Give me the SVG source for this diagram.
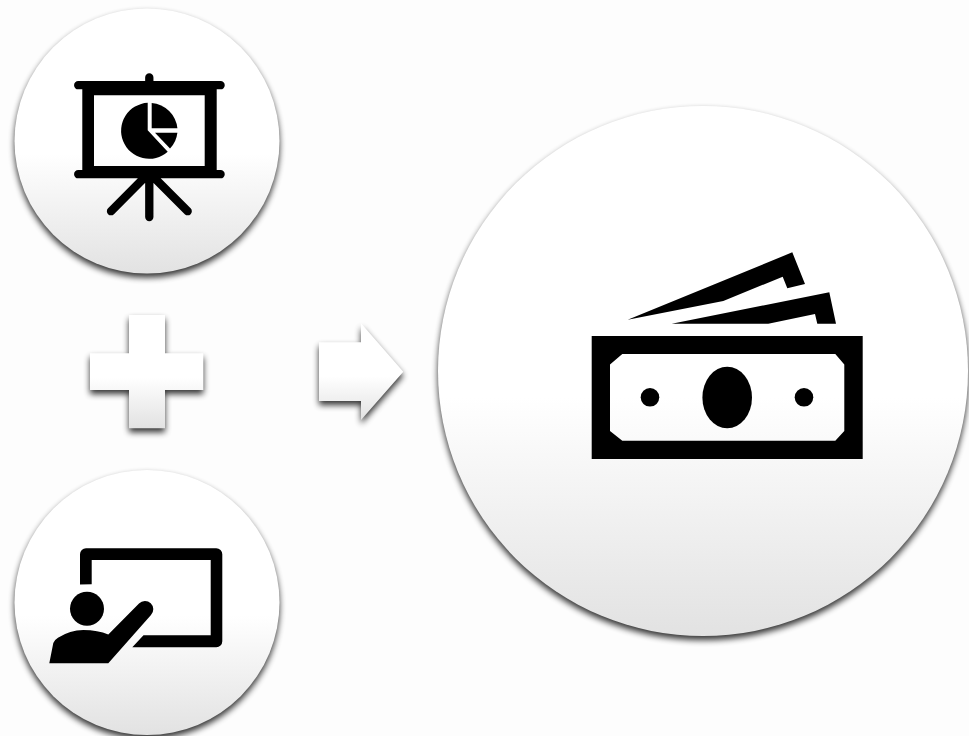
<svg xmlns="http://www.w3.org/2000/svg" width="969" height="736" viewBox="0 0 969 736">
<style>
.bubble{fill:url(#sheen);filter:url(#lift)}
.ink{fill:#000}
.bar{fill:none;stroke:#000;stroke-width:8.3;stroke-linecap:round}
</style>
<defs>
<linearGradient id="sheen" x1="0" y1="0" x2="0" y2="1">
<stop offset="0" stop-color="#fff"/>
<stop offset="0.55" stop-color="#fff"/>
<stop offset="1" stop-color="#e2e2e2"/>
</linearGradient>
<filter id="lift" x="-15%" y="-15%" width="130%" height="130%" color-interpolation-filters="sRGB">
<feGaussianBlur in="SourceAlpha" stdDeviation="3"/>
<feOffset dy="3.5"/>
<feComponentTransfer><feFuncA type="linear" slope="0.8"/></feComponentTransfer>
<feMerge><feMergeNode/><feMergeNode in="SourceGraphic"/></feMerge>
</filter>
</defs>
<rect width="969" height="736" fill="#fdfdfd"/>
<g id="node-presentation">
<circle class="bubble" cx="147" cy="141" r="132.5"/>
<path class="bar" d="M78.2 85.2H220.6M78.2 174.2H220.6M149.3 77.5V85M149.3 178V217M111 211.2L147 175M187.7 211.2L151.5 175"/>
<path class="ink" fill-rule="evenodd" d="M82.3 85H216.7V175H82.3ZM94 95.3V166H204.7V95.3Z"/>
<path class="ink" d="M147.7 102.8V130.2L167.7 151.7A28 28 0 1 1 147.7 102.8Z"/>
<path class="ink" d="M151.7 103V128.3H177.4A28 28 0 0 0 151.7 103Z"/>
<path class="ink" d="M155 132.7H177.4A28 28 0 0 1 170 148.6Z"/>
</g>
<g id="node-teacher">
<circle class="bubble" cx="147" cy="602.5" r="132.5"/>
<path class="ink" d="M80 584.6V554.3A6 6 0 0 1 86 548.3H216.3A6 6 0 0 1 222.3 554.3V641.3A6 6 0 0 1 216.3 647.3H132.3L143.5 635.3H210.7V560H91.7V584.2Z"/>
<circle class="ink" cx="87" cy="608.7" r="17"/>
<path class="ink" d="M49.3 663.3L53.3 643Q55 639.5 58 637.8Q70 630 83.3 630Q98 630 108.3 634.5L139 603.5A8.3 8.3 0 0 1 151 615L108.3 663.3Z"/>
</g>
<g id="node-plus">
<path class="bubble" d="M129 315H165V353.3H203.3V390H165V428.3H129V390H90V353.3H129Z"/>
</g>
<g id="connectors">
<path class="bubble" d="M319 342.3H361V323.3L403.3 371.7L361 420V401H319Z"/>
</g>
<g id="node-money">
<circle class="bubble" cx="703" cy="371" r="265"/>
<path class="ink" fill-rule="evenodd" d="M591.7 336H862.7V459H591.7ZM622.3 354L610 364.5V431L622.3 440.7H835.3L844.3 431V364.5L835.3 354Z"/>
<ellipse class="ink" cx="727.2" cy="397.5" rx="24.8" ry="30.8"/>
<circle class="ink" cx="650" cy="397.3" r="9.3"/>
<circle class="ink" cx="804" cy="397.3" r="9.3"/>
<path class="ink" d="M627.7 319.7L792.3 252.3L805 284L787.3 288.3L782.7 276.7L723.3 301Z"/>
<path class="ink" d="M671.7 323.7L829.3 292.3L836 323.7H817.3L815 314L768.3 323.7Z"/>
</g>
</svg>
